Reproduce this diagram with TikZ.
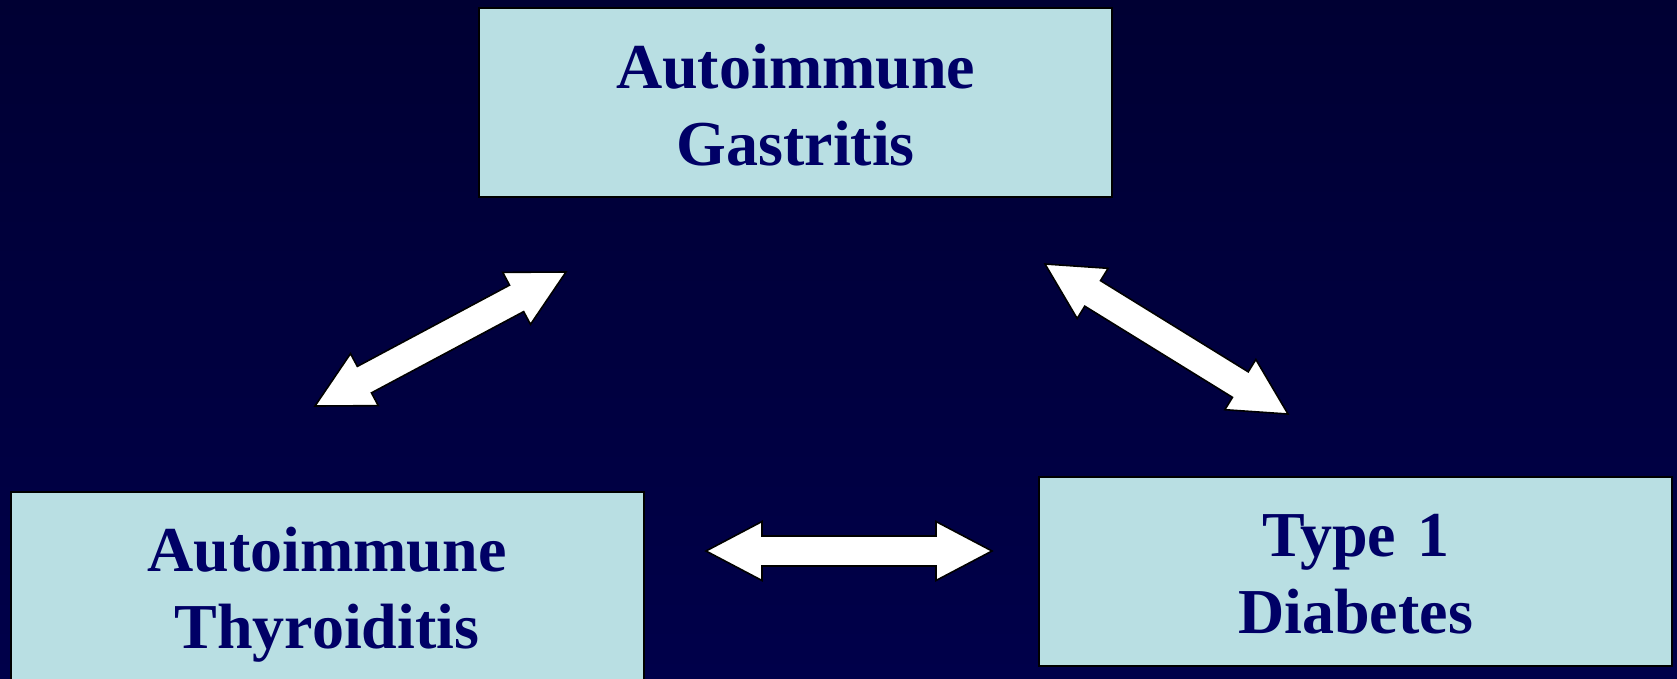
\documentclass[tikz,border=0pt]{standalone}
\usepackage{fontspec}
\setmainfont{Liberation Serif}
\usetikzlibrary{calc}
\definecolor{bgtop}{HTML}{000033}
\definecolor{bgbot}{HTML}{00004A}
\definecolor{boxfill}{HTML}{B9DFE3}
\definecolor{txtnavy}{HTML}{000066}
\tikzset{
  boxst/.style={draw=black, line width=2pt, fill=boxfill, minimum width=633pt, minimum height=189pt, inner sep=0pt},
  lbl/.style={text=txtnavy, text width=620pt, align=center, inner sep=0pt,
    font=\fontsize{64}{76.7}\selectfont\bfseries},
  arrowst/.style={fill=white, draw=black, line width=1.6pt, line join=miter}
}
\newcommand{\dblarrow}[2]{%
  \draw[arrowst] (#1)
    -- ($(#1)!56pt!(#2)!29.5pt!90:(#2)$)
    -- ($(#1)!56pt!(#2)!15pt!90:(#2)$)
    -- ($(#2)!56pt!(#1)!15pt!-90:(#1)$)
    -- ($(#2)!56pt!(#1)!29.5pt!-90:(#1)$)
    -- (#2)
    -- ($(#2)!56pt!(#1)!29.5pt!90:(#1)$)
    -- ($(#2)!56pt!(#1)!15pt!90:(#1)$)
    -- ($(#1)!56pt!(#2)!15pt!-90:(#2)$)
    -- ($(#1)!56pt!(#2)!29.5pt!-90:(#2)$)
    -- cycle;}
\begin{document}
\begin{tikzpicture}[x=1pt, y=-1pt]
  \useasboundingbox (0,0) rectangle (1677,678);
  \fill[top color=bgtop, bottom color=bgbot] (0,0) rectangle (1677,678);

  % boxes
  \node[boxst] (gas) at (795.7,102.3) {};
  \node[boxst] (thy) at (327,586) {};
  \node[boxst] (dia) at (1355.7,571.3) {};

  % labels
  \node[lbl, anchor=base] (gasl) at (795.7,88.3) {Autoimmune\\Gastritis};
  \node[lbl, anchor=base] (thyl) at (327,571.7) {Autoimmune\\Thyroiditis};
  \node[lbl, anchor=base] (dial) at (1355.7,556.7) {Type 1\\Diabetes};

  % arrow ends
  \coordinate (a1s) at (315,406);
  \coordinate (a1e) at (566,272);
  \coordinate (a2s) at (1045,264);
  \coordinate (a2e) at (1288,414);
  \coordinate (a3s) at (706,551);
  \coordinate (a3e) at (992,551);

  \dblarrow{a1s}{a1e}
  \dblarrow{a2s}{a2e}
  \dblarrow{a3s}{a3e}
\end{tikzpicture}
\end{document}
